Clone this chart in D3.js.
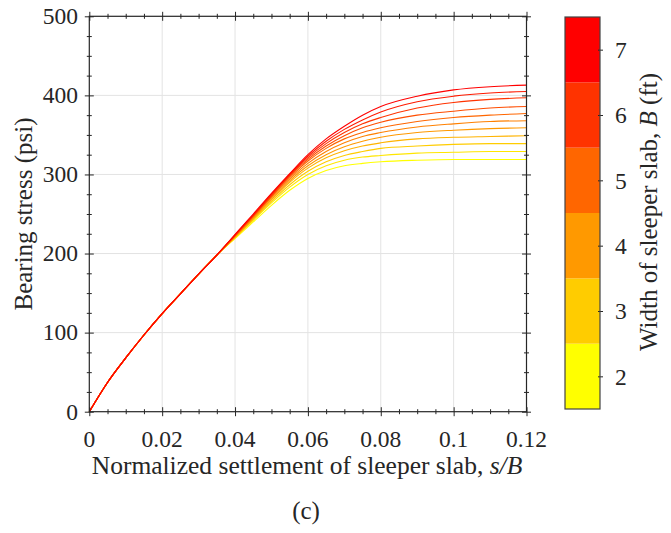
<!DOCTYPE html>
<html><head><meta charset="utf-8">
<script src="https://cdn.jsdelivr.net/npm/d3@7"></script>
<style>body{margin:0;background:#fff}svg{display:block}</style>
</head><body>
<svg id="c" width="671" height="533"></svg>
<script>
// ---- data ----
const widths = [2, 2.5, 3, 3.5, 4, 4.5, 5, 5.5, 6, 6.5, 7];           // B (ft)
const sCommon = [0, 0.005, 0.01, 0.015, 0.02, 0.025, 0.03, 0.035];
const qCommon = [0, 37, 68, 97, 124, 149, 174, 198];
const sTail = [0.04, 0.045, 0.05, 0.055, 0.06, 0.065, 0.07, 0.075, 0.08, 0.09, 0.1, 0.11, 0.12];
const qB2   = [219, 240, 261, 280, 295, 305, 311, 314, 316, 318, 319, 319, 319];
const qB2_5 = [220, 242, 264, 284, 300, 311, 318, 322, 324, 327, 328, 329, 329];
const qB3   = [220, 243, 266, 287, 304, 316, 324, 329, 333, 336, 338, 339, 339];
const qB3_5 = [221, 244, 268, 290, 308, 321, 330, 336, 340, 345, 347, 348, 349];
const qB4   = [221, 245, 269, 292, 311, 325, 335, 342, 347, 353, 356, 358, 359];
const qB4_5 = [222, 246, 271, 294, 314, 329, 340, 348, 353, 360, 364, 367, 368];
const qB5   = [222, 247, 272, 296, 317, 333, 345, 353, 359, 367, 372, 375, 377];
const qB5_5 = [223, 248, 273, 298, 319, 336, 349, 359, 366, 375, 380, 384, 386];
const qB6   = [223, 248, 274, 299, 321, 339, 353, 364, 372, 384, 391, 395, 397];
const qB6_5 = [224, 249, 275, 300, 323, 342, 357, 369, 379, 392, 399, 403, 405];
const qB7   = [224, 250, 276, 301, 325, 345, 361, 375, 386, 399, 407, 411, 413];
const tailSeries = [qB2, qB2_5, qB3, qB3_5, qB4, qB4_5, qB5, qB5_5, qB6, qB6_5, qB7];
const xTicks = [0, 0.02, 0.04, 0.06, 0.08, 0.1, 0.12];
const xTickLabels = ["0", "0.02", "0.04", "0.06", "0.08", "0.1", "0.12"];
const yTicks = [0, 100, 200, 300, 400, 500];
const cbTicks = [2, 3, 4, 5, 6, 7];
const cbBins = [2, 3, 4, 5, 6, 7];

// ---- layout ----
const L = 89.3, R = 526.5, T = 16.3, B = 411.7;
const font = "'Liberation Serif','Times New Roman',serif";
const axisCol = "#262626";
const svg = d3.select("#c");
const x = d3.scaleLinear().domain([0, 0.12]).range([L, R]);
const y = d3.scaleLinear().domain([0, 500]).range([B, T]);
const colorOf = b => d3.interpolateRgb("#ff0000", "#ffff00")((7 - b) / 5);

// grid
const g = svg.append("g");
g.selectAll(".gx").data(xTicks.slice(1, -1)).join("line")
  .attr("x1", d => x(d)).attr("x2", d => x(d)).attr("y1", T).attr("y2", B)
  .attr("stroke", "#e3e3e3").attr("stroke-width", 1);
g.selectAll(".gy").data(yTicks.slice(1, -1)).join("line")
  .attr("y1", d => y(d)).attr("y2", d => y(d)).attr("x1", L).attr("x2", R)
  .attr("stroke", "#e3e3e3").attr("stroke-width", 1);

// curves
const line = d3.line().x(d => x(d[0])).y(d => y(d[1])).curve(d3.curveMonotoneX);
widths.forEach((b, i) => {
  const pts = sCommon.map((s, k) => [s, qCommon[k]])
    .concat(sTail.map((s, k) => [s, tailSeries[i][k]]));
  svg.append("path").datum(pts).attr("d", line)
    .attr("fill", "none").attr("stroke", colorOf(b)).attr("stroke-width", 1.1);
});

// axes with crossing ticks
const xMinor = d3.range(0, 0.1201, 0.005).filter(v => !xTicks.some(t => Math.abs(t - v) < 1e-6));
const yMinor = d3.range(0, 501, 25).filter(v => v % 100 !== 0);
function styleAxis(sel, len, horiz) {
  sel.select(".domain").remove();
  sel.selectAll(".tick line").attr("stroke", axisCol).attr("stroke-width", 1)
    .each(function () {
      const l = d3.select(this);
      if (horiz) l.attr("y1", -len).attr("y2", len); else l.attr("x1", -len).attr("x2", len);
    });
  sel.selectAll("text").remove();
}
[[B, d3.axisBottom], [T, d3.axisTop]].forEach(([pos, ax]) => {
  svg.append("g").attr("transform", `translate(0,${pos})`)
    .call(ax(x).tickValues(xTicks).tickSize(4)).call(s => styleAxis(s, 4.5, true));
  svg.append("g").attr("transform", `translate(0,${pos})`)
    .call(ax(x).tickValues(xMinor).tickSize(2.5)).call(s => styleAxis(s, 2.5, true));
});
[[L, d3.axisLeft], [R, d3.axisRight]].forEach(([pos, ax]) => {
  svg.append("g").attr("transform", `translate(${pos},0)`)
    .call(ax(y).tickValues(yTicks).tickSize(4)).call(s => styleAxis(s, 4.5, false));
  svg.append("g").attr("transform", `translate(${pos},0)`)
    .call(ax(y).tickValues(yMinor).tickSize(2.5)).call(s => styleAxis(s, 2.5, false));
});
svg.append("rect").attr("x", L).attr("y", T).attr("width", R - L).attr("height", B - T)
  .attr("fill", "none").attr("stroke", axisCol).attr("stroke-width", 1.2);

// tick labels
svg.selectAll(".xl").data(xTicks).join("text")
  .attr("x", d => x(d)).attr("y", 447).attr("text-anchor", "middle")
  .attr("font-family", font).attr("font-size", 23.5).attr("fill", axisCol)
  .text((d, i) => xTickLabels[i]);
svg.selectAll(".yl").data(yTicks).join("text")
  .attr("x", 78).attr("y", d => y(d) + 7.8).attr("text-anchor", "end")
  .attr("font-family", font).attr("font-size", 23.5).attr("fill", axisCol)
  .text(d => d);

// axis titles
const xt = svg.append("text").attr("x", 307).attr("y", 474).attr("text-anchor", "middle")
  .attr("font-family", font).attr("font-size", 25.5).attr("fill", axisCol);
xt.append("tspan").text("Normalized settlement of sleeper slab, ");
xt.append("tspan").attr("font-style", "italic").text("s/B");
svg.append("text").attr("transform", `translate(32,${(T + B) / 2}) rotate(-90)`)
  .attr("text-anchor", "middle").attr("font-family", font).attr("font-size", 25).attr("fill", axisCol)
  .text("Bearing stress (psi)");
svg.append("text").attr("x", 306).attr("y", 519).attr("text-anchor", "middle")
  .attr("font-family", font).attr("font-size", 25).attr("fill", axisCol).text("(c)");

// colorbar
const cbL = 565, cbR = 600;
const cy = d3.scaleLinear().domain([1.5, 7.5]).range([409, 17]);
svg.selectAll(".cb").data(cbBins).join("rect")
  .attr("x", cbL).attr("width", cbR - cbL)
  .attr("y", d => cy(d + 0.5)).attr("height", d => cy(d - 0.5) - cy(d + 0.5))
  .attr("fill", d => colorOf(d));
const cbAxis = svg.append("g").attr("transform", `translate(${cbR},0)`)
  .call(d3.axisRight(cy).tickValues(cbTicks).tickFormat(d3.format("d")).tickSize(4).tickPadding(11));
cbAxis.select(".domain").remove();
cbAxis.selectAll(".tick line").attr("stroke", axisCol).attr("x1", -2).attr("x2", 3);
cbAxis.selectAll("text").attr("font-family", font).attr("font-size", 23.5).attr("fill", axisCol)
  .attr("dy", "0.33em");
svg.append("rect").attr("x", cbL).attr("y", 17).attr("width", cbR - cbL).attr("height", 392)
  .attr("fill", "none").attr("stroke", "#444").attr("stroke-width", 1.2);
const ct = svg.append("text").attr("transform", `translate(657,212) rotate(-90)`)
  .attr("text-anchor", "middle").attr("font-family", font).attr("font-size", 25).attr("fill", axisCol);
ct.append("tspan").text("Width of sleeper slab, ");
ct.append("tspan").attr("font-style", "italic").text("B");
ct.append("tspan").text(" (ft)");
</script>
</body></html>
